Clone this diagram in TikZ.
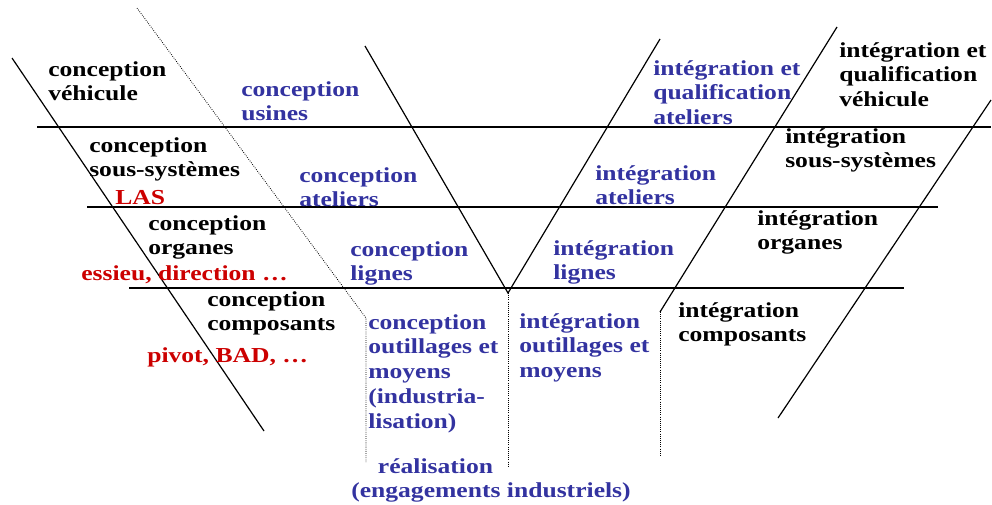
\documentclass[tikz,border=0pt]{standalone}
\usepackage{fontspec}
\setmainfont{Liberation Serif}[FakeStretch=1.2]
\usepackage{tikz}
\definecolor{cycleblue}{RGB}{51,51,160}
\definecolor{cyclered}{RGB}{204,0,0}
% multi-line text whose baseline is the first line
\newcommand{\firstline}[1]{\begin{tabular}[t]{@{}l@{}}#1\end{tabular}}
\tikzset{
  lbl/.style={anchor=base west, inner sep=0pt,
    font=\fontsize{16}{18.6}\selectfont\bfseries},
  blbl/.style={lbl, text=cycleblue},
  rlbl/.style={lbl, text=cyclered},
  rule/.style={line width=0.9pt},
  dots/.style={densely dotted, line width=0.6pt}
}

\begin{document}
\begin{tikzpicture}[x=0.75pt, y=-0.75pt]
  \useasboundingbox (0,0) rectangle (992,504);
  % levels
  \draw[rule] (37,127) -- (991,127);
  \draw[rule] (87,207) -- (938,207);
  \draw[rule] (129,288) -- (904,288);
  % descending branch
  \draw[rule] (12,58) -- (264,431);
  \draw[dots] (137,8) -- (366,318) -- (366,462);
  % the V
  \coordinate (vtip) at (508,293);
  \draw[rule] (365,46) -- (vtip) -- (660,39);
  \draw[dots] (vtip) -- (508,467);
  % ascending branch
  \draw[rule] (837,27) -- (660,312);
  \draw[dots] (660,312) -- (660,455);
  \draw[rule] (991,100) -- (778,418);

  % conception (left side)
  \node[lbl] (cveh) at (48,76) {\firstline{conception\\véhicule}};
  \node[lbl] (css) at (89,152) {\firstline{conception\\sous-systèmes}};
  \node[rlbl] (las) at (115,204) {LAS};
  \node[lbl] (corg) at (148,230) {\firstline{conception\\organes}};
  \node[rlbl] (essieu) at (81,280) {essieu, direction \ldots};
  \node[lbl] (ccomp) at (207,306) {\firstline{conception\\composants}};
  \node[rlbl] (pivot) at (147,362) {pivot, BAD, \ldots};
  \node[blbl] (cus) at (241,96) {\firstline{conception\\usines}};
  \node[blbl] (cat) at (299,182) {\firstline{conception\\ateliers}};
  \node[blbl] (clig) at (350,256) {\firstline{conception\\lignes}};
  \node[blbl] (cout) at (368,329) {\firstline{conception\\outillages et\\moyens\\(industria-\\lisation)}};
  \node[blbl] (real) at (351,473) {\firstline{\hspace*{20pt}réalisation\\(engagements industriels)}};

  % integration (right side)
  \node[lbl] (iqveh) at (839,57) {\firstline{intégration et\\qualification\\véhicule}};
  \node[blbl] (iqat) at (653,75) {\firstline{intégration et\\qualification\\ateliers}};
  \node[lbl] (iss) at (785,143) {\firstline{intégration\\sous-systèmes}};
  \node[blbl] (iat) at (595,180) {\firstline{intégration\\ateliers}};
  \node[lbl] (iorg) at (757,225) {\firstline{intégration\\organes}};
  \node[blbl] (ilig) at (553,255) {\firstline{intégration\\lignes}};
  \node[blbl] (iout) at (519,328) {\firstline{intégration\\outillages et\\moyens}};
  \node[lbl] (icomp) at (678,317) {\firstline{intégration\\composants}};
\end{tikzpicture}
\end{document}
